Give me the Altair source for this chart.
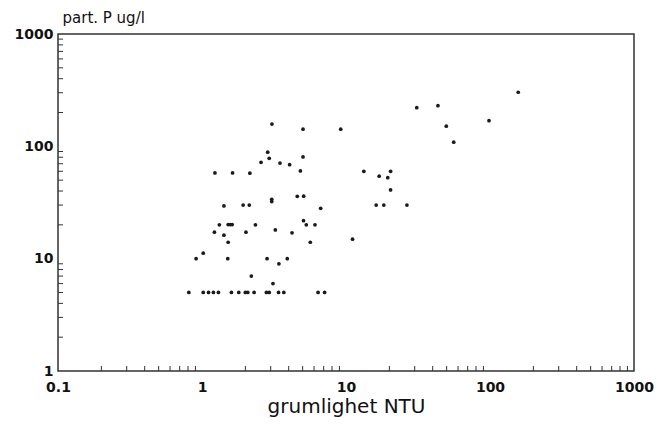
import altair as alt
import pandas as pd

# turbidity (NTU) and particulate P (ug/l)
ntu = [0.81, 1.02, 1.11, 1.2, 1.3, 1.6, 1.8, 2.0, 2.08, 2.3, 2.8, 2.93, 3.4, 3.7, 6.4, 7.1,
       0.91, 1.51, 2.83, 3.91, 1.02, 3.42, 3.11, 2.2, 1.52, 1.22, 1.42, 2.02, 1.32,
       1.52, 1.57, 1.62, 2.35, 1.42, 1.93, 2.13, 1.23, 1.63, 2.15, 2.57, 2.86, 2.93,
       3.06, 5.03, 9.19, 3.48, 4.06, 5.03, 4.82, 13.3, 17.0, 3.05, 3.05, 4.59, 5.08,
       6.67, 16.2, 18.3, 26.5, 5.07, 5.3, 6.09, 3.23, 4.22, 5.65, 11.1, 20.4, 19.5,
       20.4, 157, 31.0, 43.5, 98.4, 49.7, 56.0]
partp = [5, 5, 5, 5, 5, 5, 5, 5, 5, 5, 5, 5, 5, 5, 5, 5,
         10, 10, 10, 10, 11.2, 9.0, 6.0, 7.0, 14.0, 17.2, 16.2, 17.2, 20,
         20.1, 20.1, 20.1, 20, 29.5, 30, 30, 58, 58, 57.6, 72, 88.6, 78.3,
         158, 142, 142, 71, 68.7, 80.4, 60.4, 60, 54.2, 33.8, 32.2, 35.9, 36,
         28.1, 30, 30, 30, 21.8, 20, 20, 18, 17, 14, 14.9, 60, 52.6,
         40.9, 303, 221, 230, 169, 151, 109]

x_major = [0.1, 1, 10, 100, 1000]
y_major = [1, 10, 100, 1000]
x_minor = [m * d for d in [0.1, 1, 10, 100] for m in range(2, 10)]
y_minor = [m * d for d in [1, 10, 100] for m in range(2, 10)]

W, H = 576, 337
FONT = "DejaVu Sans"

df = pd.DataFrame({"ntu": ntu, "p": partp})
xm = pd.DataFrame({"ntu": x_minor})
ym = pd.DataFrame({"p": y_minor})

xscale = alt.Scale(type="log", domain=[0.1, 1000], nice=False)
yscale = alt.Scale(type="log", domain=[1, 1000], nice=False)

xaxis = alt.Axis(values=x_major, format="~g", title="grumlighet NTU",
                 grid=False, domain=False, ticks=False, labelPadding=9,
                 labelFont=FONT, labelFontSize=14, labelFontWeight="bold",
                 labelColor="#111", labelFlush=False,
                 titleFont=FONT, titleFontSize=20, titleFontWeight="normal",
                 titleColor="#111", titleBaseline="alphabetic", titleY=41)
yaxis = alt.Axis(values=y_major, format="~g", title="part. P ug/l",
                 grid=False, domain=False, ticks=False, labelPadding=5,
                 labelFont=FONT, labelFontSize=14, labelFontWeight="bold",
                 labelColor="#111", labelFlush=False,
                 titleFont=FONT, titleFontSize=15, titleFontWeight="normal",
                 titleColor="#111", titleAngle=0, titleAlign="left",
                 titleBaseline="alphabetic", titleX=4, titleY=-12)

points = alt.Chart(df).mark_point(filled=True, color="#1a1a1a", size=14, opacity=1).encode(
    x=alt.X("ntu:Q", scale=xscale, axis=xaxis),
    y=alt.Y("p:Q", scale=yscale, axis=yaxis),
)

xticks = alt.Chart(xm).mark_rule(color="#333333", strokeWidth=1).encode(
    x=alt.X("ntu:Q", scale=xscale, axis=xaxis),
    y=alt.value(H),
    y2=alt.value(H - 5),
)

yticks = alt.Chart(ym).mark_rule(color="#333333", strokeWidth=1).encode(
    y=alt.Y("p:Q", scale=yscale, axis=yaxis),
    x=alt.value(0),
    x2=alt.value(5),
)

chart = alt.layer(points, xticks, yticks).properties(
    width=W, height=H,
    autosize=alt.AutoSizeParams(type="none"),
    padding={"left": 58, "top": 34, "right": 22, "bottom": 57},
    background="white",
).configure_view(stroke="#333333", strokeWidth=1.5)

chart.save("out.html", embed_options={"renderer": "svg", "actions": False})
